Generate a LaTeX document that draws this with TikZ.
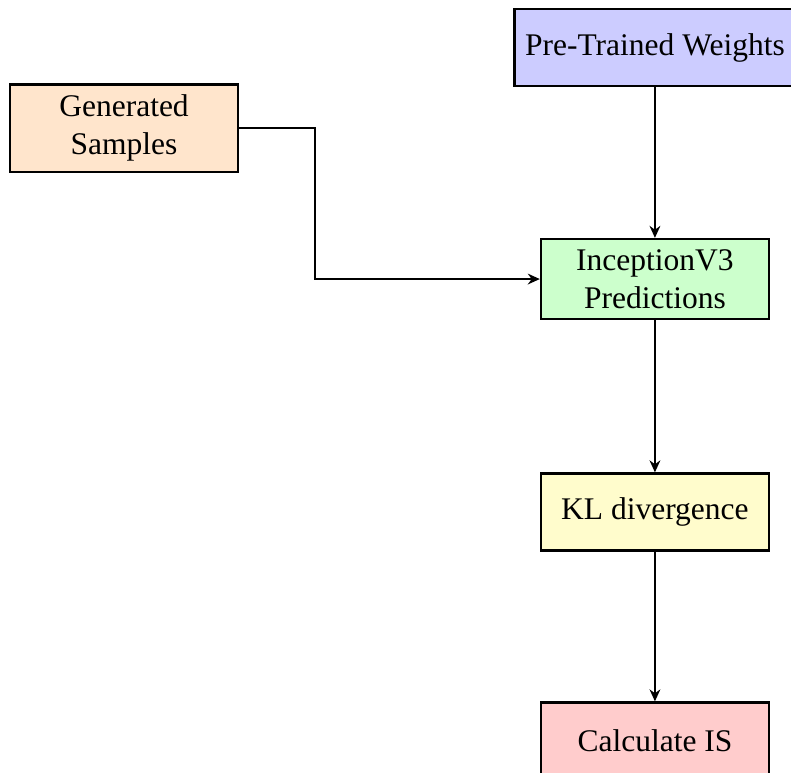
\documentclass[tikz,border=0pt]{standalone}
\usepackage{fontspec}
\setmainfont{Liberation Serif}
\usetikzlibrary{arrows.meta}
\begin{document}
\begin{tikzpicture}[>={Stealth[length=4pt, width=3.6pt]}]
        \tikzstyle{block}=[rectangle, draw, thick, font=\fontsize{10.5}{12.6}\selectfont, minimum width=2.67cm, minimum height=0.9cm, inner sep=3.5pt, align=center]
        \tikzstyle{link}=[semithick]
        \useasboundingbox (0,0) rectangle (9.267,-9.056);
        \node[block, fill=blue!20] (weights) at (7.673,-0.556) {Pre-Trained Weights};
        \node[block, fill=orange!20] (samples) at (1.453,-1.500) {Generated\\Samples};
        \node[block, fill=green!20] (incep) at (7.673,-3.269) {InceptionV3\\Predictions};
        \node[block, fill=yellow!20] (kl) at (7.673,-5.998) {KL divergence};
        \node[block, fill=red!20] (calc) at (7.673,-8.681) {Calculate IS};
        \path [->, link] (weights) edge[] (incep);
        \path [->, link] (incep) edge[] (kl);
        \path [->, link] (kl) edge[] (calc);
        \draw [->, link] (samples.east) -- ++(0.89,0) |- (incep.west);
    \end{tikzpicture}
\end{document}
